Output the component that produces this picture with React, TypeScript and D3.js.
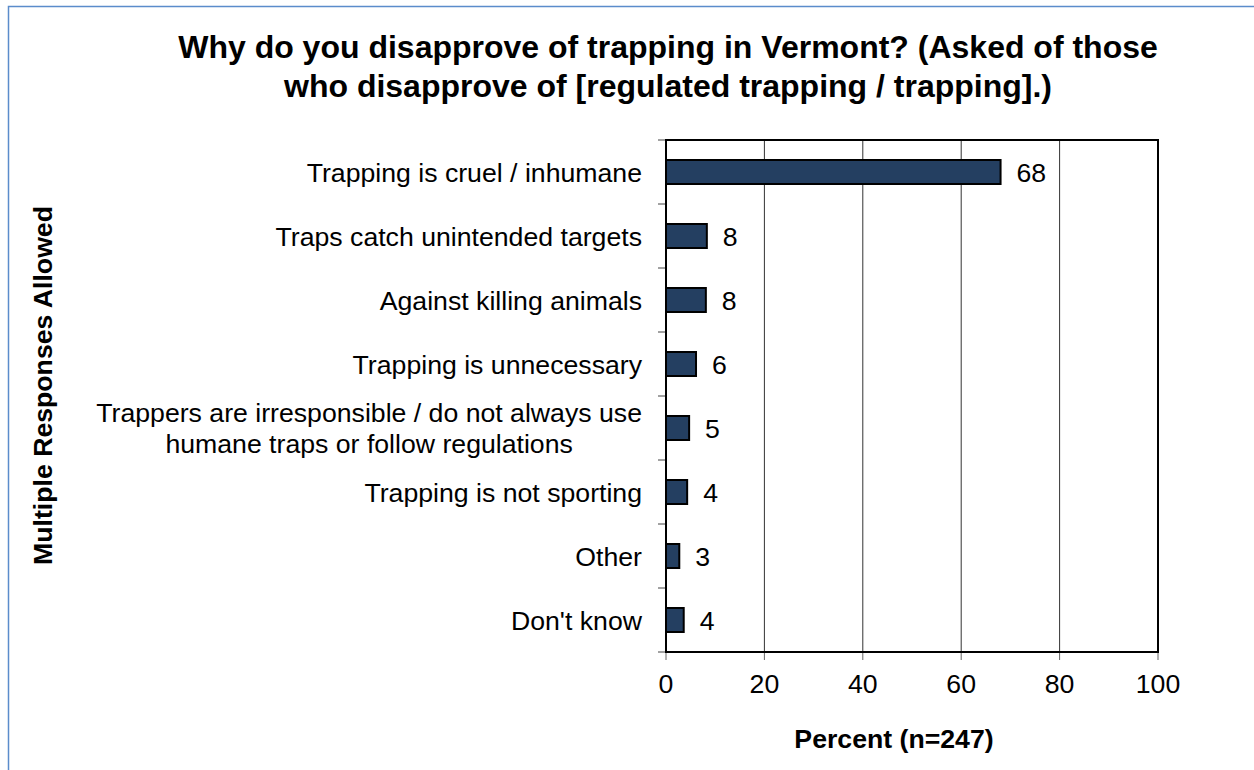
import * as d3 from "d3";
import React from "react";

const categories = [
  ["Trapping is cruel / inhumane"],
  ["Traps catch unintended targets"],
  ["Against killing animals"],
  ["Trapping is unnecessary"],
  ["Trappers are irresponsible / do not always use", "humane traps or follow regulations"],
  ["Trapping is not sporting"],
  ["Other"],
  ["Don't know"],
];
const values = [68, 8.3, 8.1, 6.1, 4.7, 4.3, 2.7, 3.6];
const valueLabels = ["68", "8", "8", "6", "5", "4", "3", "4"];
const xTicks = [0, 20, 40, 60, 80, 100];

const titleLines = [
  "Why do you disapprove of trapping in Vermont? (Asked of those",
  "who disapprove of [regulated trapping / trapping].)",
];
const xTitle = "Percent (n=247)";
const yTitle = "Multiple Responses Allowed";

const width = 1254;
const height = 770;
const marginLeft = 666;
const marginRight = 96;
const marginTop = 140;
const marginBottom = 118;
const font = "'Liberation Sans', Arial, sans-serif";
const barColor = "#243f61";
const fs = 26.67;

// width of a text line, for centring wrapped labels under each other
let ctx: CanvasRenderingContext2D | null = null;
const measure = (s: string) => {
  if (!ctx) ctx = document.createElement("canvas").getContext("2d");
  if (!ctx) return s.length * fs * 0.5;
  ctx.font = `${fs}px ${font}`;
  return ctx.measureText(s).width;
};

const App = () => {
  const x = d3.scaleLinear([0, 100], [marginLeft, width - marginRight]);
  const idx = d3.range(categories.length);
  const y = d3
    .scaleBand<number>()
    .domain(idx)
    .range([marginTop, height - marginBottom])
    .paddingInner(0.625)
    .paddingOuter(0.3125);
  const step = y.step();
  const bottom = height - marginBottom;
  const labelRight = 642;

  return (
    <svg
      width={width}
      height={height}
      style={{ position: "absolute", left: 0, top: 0, background: "#fff" }}
      fontFamily={font}
    >
      <rect x={8.5} y={6.5} width={width} height={height} fill="#fff" stroke="#5b8ccb" strokeWidth={1.5} />

      {/* title */}
      <text textAnchor="middle" fontSize={32} fontWeight="bold" fill="#000">
        {titleLines.map((t, i) => (
          <tspan key={i} x={668} y={58 + i * 38.5}>
            {t}
          </tspan>
        ))}
      </text>

      {/* gridlines */}
      {xTicks.slice(1, -1).map((t) => (
        <line key={t} x1={x(t)} x2={x(t)} y1={marginTop} y2={bottom} stroke="#333" strokeWidth={1} />
      ))}

      {/* x ticks */}
      {xTicks.map((t) => (
        <g key={t}>
          <line x1={x(t)} x2={x(t)} y1={bottom} y2={bottom + 8} stroke="#666" strokeWidth={1} />
          <text x={x(t)} y={693} textAnchor="middle" fontSize={fs} fill="#000">
            {t}
          </text>
        </g>
      ))}

      {/* y ticks at category boundaries */}
      {d3.range(categories.length + 1).map((k) => (
        <line
          key={k}
          x1={marginLeft - 8}
          x2={marginLeft}
          y1={marginTop + k * step}
          y2={marginTop + k * step}
          stroke="#444"
          strokeWidth={1}
        />
      ))}

      {/* bars */}
      {values.map((v, i) => (
        <g key={i}>
          <rect
            x={x(0)}
            y={y(i)!}
            width={x(v) - x(0)}
            height={y.bandwidth()}
            fill={barColor}
            stroke="#000"
            strokeWidth={2}
          />
          <text
            x={x(v) + 16}
            y={y(i)! + y.bandwidth() / 2}
            dy="0.36em"
            fontSize={fs}
            fill="#000"
          >
            {valueLabels[i]}
          </text>
        </g>
      ))}

      {/* category labels */}
      {categories.map((lines, i) => {
        const cy = y(i)! + y.bandwidth() / 2;
        const lh = 31;
        const start = cy - ((lines.length - 1) * lh) / 2;
        const multi = lines.length > 1;
        const blockW = multi ? d3.max(lines, measure)! : 0;
        return (
          <text key={i} textAnchor={multi ? "middle" : "end"} fontSize={fs} fill="#000">
            {lines.map((l, j) => (
              <tspan
                key={j}
                x={multi ? labelRight - blockW / 2 : labelRight}
                y={start + j * lh}
                dy="0.36em"
              >
                {l}
              </tspan>
            ))}
          </text>
        );
      })}

      {/* plot frame */}
      <rect
        x={marginLeft}
        y={marginTop}
        width={x(100) - x(0)}
        height={bottom - marginTop}
        fill="none"
        stroke="#000"
        strokeWidth={2}
      />

      <text x={894} y={748} textAnchor="middle" fontSize={fs} fontWeight="bold" fill="#000">
        {xTitle}
      </text>
      <text
        transform={`translate(52,385.5) rotate(-90)`}
        textAnchor="middle"
        fontSize={fs}
        fontWeight="bold"
        fill="#000"
      >
        {yTitle}
      </text>
    </svg>
  );
};

export default App;
